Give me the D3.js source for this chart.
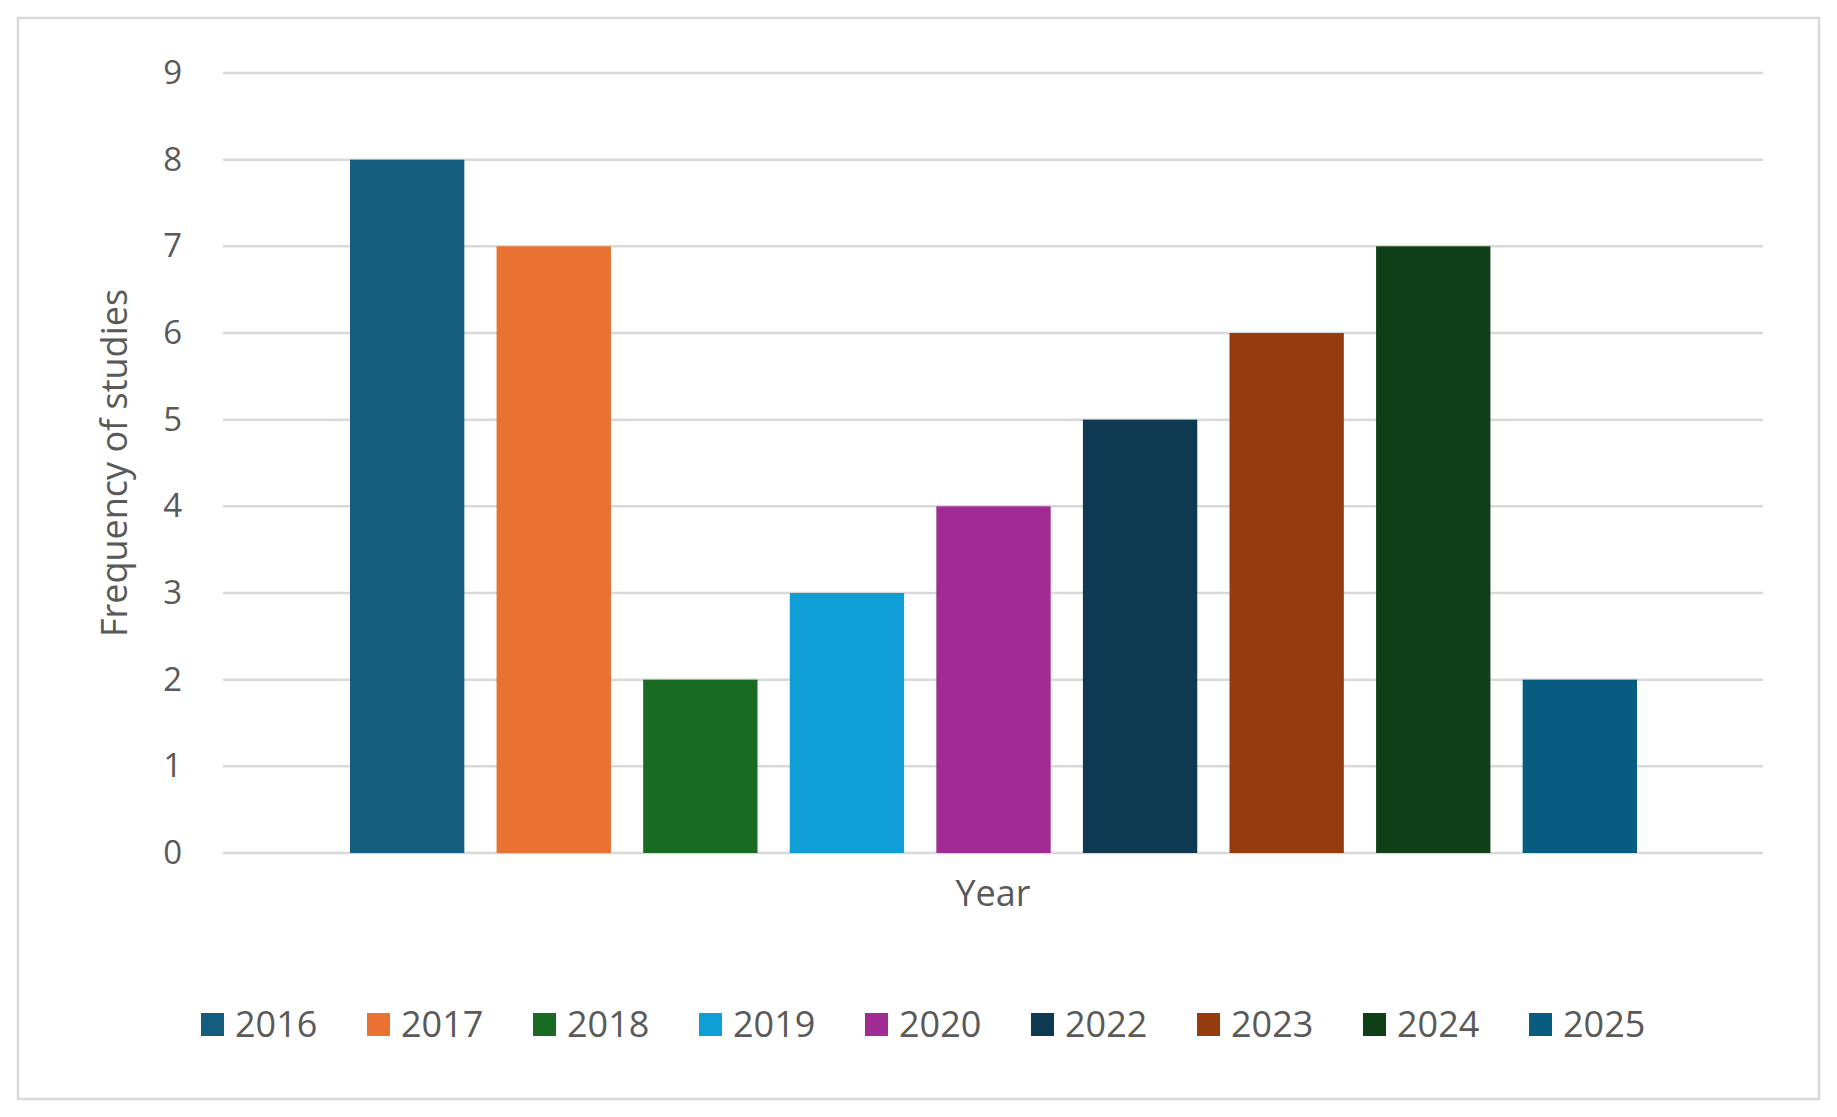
<!DOCTYPE html>
<html><head><meta charset="utf-8">
<script src="https://cdn.jsdelivr.net/npm/d3@7"></script>
<style>body{margin:0;background:#fff}text{font-family:"Open Sans",sans-serif;fill:#595959}</style>
</head><body>
<script>
// Data
const years = ["2016", "2017", "2018", "2019", "2020", "2022", "2023", "2024", "2025"];
const counts = [8, 7, 2, 3, 4, 5, 6, 7, 2];
const colors = ["#155d7f", "#e97132", "#196b24", "#0f9ed5", "#a02b93", "#0e3a51", "#953b0e", "#0f3f16", "#085c80"];
const yTicks = [0, 1, 2, 3, 4, 5, 6, 7, 8, 9];

const svg = d3.select("body").append("svg").attr("width", 1837).attr("height", 1117);

svg.append("rect").attr("x", 18).attr("y", 18).attr("width", 1801).attr("height", 1081)
	.attr("fill", "#fff").attr("stroke", "#d9d9d9").attr("stroke-width", 2.5);

let y = d3.scaleLinear().domain([0, 9]).range([853, 73]);
let x = d3.scaleBand().domain(years).range([350, 1637]).paddingInner(0.22).paddingOuter(0);

// Gridlines
svg.selectAll("line.grid").data(yTicks).enter().append("line")
	.attr("x1", 223).attr("x2", 1763)
	.attr("y1", d => y(d)).attr("y2", d => y(d))
	.attr("stroke", "#d9d9d9").attr("stroke-width", 2.5);

// Y axis labels
let yAxis = d3.axisLeft(y).tickValues(yTicks).tickSize(0).tickPadding(0);
let gy = svg.append("g").attr("transform", "translate(182,0)").call(yAxis);
gy.select(".domain").remove();
gy.selectAll("text").style("font-size", "33px").attr("fill", "#595959").style("font-family", "Open Sans");

// Bars
svg.selectAll("rect.bar").data(years).enter().append("rect")
	.attr("x", d => x(d)).attr("width", x.bandwidth())
	.attr("y", (d, i) => y(counts[i])).attr("height", (d, i) => y(0) - y(counts[i]))
	.attr("fill", (d, i) => colors[i]);

// Axis titles
svg.append("text").attr("x", 993).attr("y", 906).attr("text-anchor", "middle")
	.style("font-size", "36px").text("Year");
svg.append("text").attr("transform", "translate(127,463) rotate(-90)").attr("text-anchor", "middle")
	.style("font-size", "36px").text("Frequency of studies");

// Legend
let legend = svg.selectAll("g.leg").data(years).enter().append("g")
	.attr("transform", (d, i) => `translate(${201 + i * 166},1025)`);
legend.append("rect").attr("x", 0).attr("y", -12).attr("width", 23).attr("height", 23)
	.attr("fill", (d, i) => colors[i]);
legend.append("text").attr("x", 34).attr("y", 12).style("font-size", "36px").text(d => d);
</script>
</body></html>
